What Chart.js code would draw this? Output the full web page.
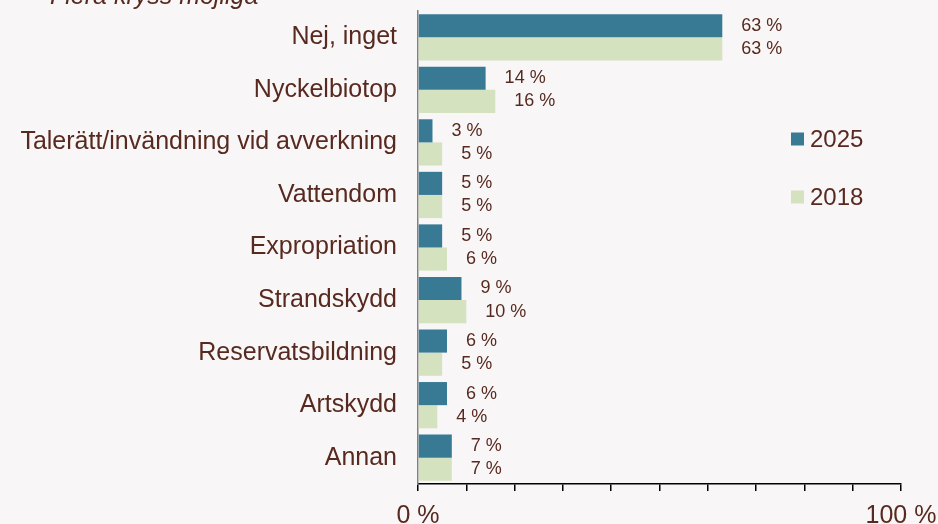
<!DOCTYPE html>
<html>
<head>
<meta charset="utf-8">
<script src="https://cdn.jsdelivr.net/npm/chart.js@4"></script>
<style>
html,body{margin:0;padding:0;background:#f8f6f7;}
#wrap{width:938px;height:524px;position:relative;}
</style>
</head>
<body>
<div id="wrap"><canvas id="c" width="938" height="524"></canvas></div>
<script>
const categories = ["Nej, inget","Nyckelbiotop","Talerätt/invändning vid avverkning","Vattendom","Expropriation","Strandskydd","Reservatsbildning","Artskydd","Annan"];
const values2025 = [63,14,3,5,5,9,6,6,7];
const values2018 = [63,16,5,5,6,10,5,4,7];
const seriesNames = ["2025","2018"];
const tickLabels = {0:"0 %",100:"100 %"};
const subtitle = "Flera kryss möjliga";

const TXT = '#582a1f';
const FONT = '"Liberation Sans", Arial, sans-serif';
const C1 = '#387a94', C2 = '#d4e2c0';

const extras = {
  id:'extras',
  beforeDraw(chart){
    const ctx = chart.ctx;
    ctx.save();
    ctx.fillStyle = '#f8f6f7';
    ctx.fillRect(0,0,chart.width,chart.height);
    ctx.restore();
  },
  afterDraw(chart){
    const ctx = chart.ctx;
    ctx.save();
    ctx.font = 'italic 25px ' + FONT;
    ctx.fillStyle = TXT;
    ctx.textAlign = 'left';
    ctx.textBaseline = 'alphabetic';
    ctx.fillText(subtitle, 50, 4);
    ctx.font = '18px ' + FONT;
    ctx.textBaseline = 'middle';
    chart.data.datasets.forEach((ds, di) => {
      const meta = chart.getDatasetMeta(di);
      meta.data.forEach((bar, i) => {
        ctx.fillText(ds.data[i] + ' %', bar.x + 19, bar.y);
      });
    });
    ctx.font = '24px ' + FONT;
    const ly = [139, 197];
    chart.data.datasets.forEach((ds, di) => {
      ctx.fillStyle = ds.backgroundColor;
      ctx.fillRect(791, ly[di]-6.5, 13, 13);
      ctx.fillStyle = TXT;
      ctx.fillText(ds.label, 810, ly[di]+1);
    });
    ctx.restore();
  }
};

new Chart(document.getElementById('c'), {
  type:'bar',
  data:{
    labels: categories,
    datasets:[
      {label: seriesNames[0], data: values2025, backgroundColor: C1, categoryPercentage:0.88, barPercentage:1.0},
      {label: seriesNames[1], data: values2018, backgroundColor: C2, categoryPercentage:0.88, barPercentage:1.0}
    ]
  },
  options:{
    indexAxis:'y',
    responsive:false,
    animation:false,
    devicePixelRatio:1,
    layout:{padding:{top:11,right:37,left:0,bottom:0}},
    plugins:{legend:{display:false},tooltip:{enabled:false}},
    scales:{
      x:{
        min:0,max:100,
        afterFit(s){ s.height = 40; s.paddingLeft = 0; s.paddingRight = 0; },
        ticks:{stepSize:10, autoSkip:false, maxRotation:0, padding:10,
          color:TXT, font:{size:25, family:FONT},
          callback:(v)=> (tickLabels[v] !== undefined ? tickLabels[v] : '')},
        grid:{drawOnChartArea:false, drawTicks:true, tickLength:7, color:'#000', lineWidth:1.5},
        border:{display:true, color:'#000', width:1.5}
      },
      y:{
        afterFit(s){ s.width = 418; s.paddingTop = 0; s.paddingBottom = 0; },
        ticks:{color:TXT, font:{size:25, family:FONT}, padding:13, autoSkip:false},
        grid:{display:false},
        border:{display:true, color:'#808080', width:1.5}
      }
    }
  },
  plugins:[extras]
});
</script>
</body>
</html>
